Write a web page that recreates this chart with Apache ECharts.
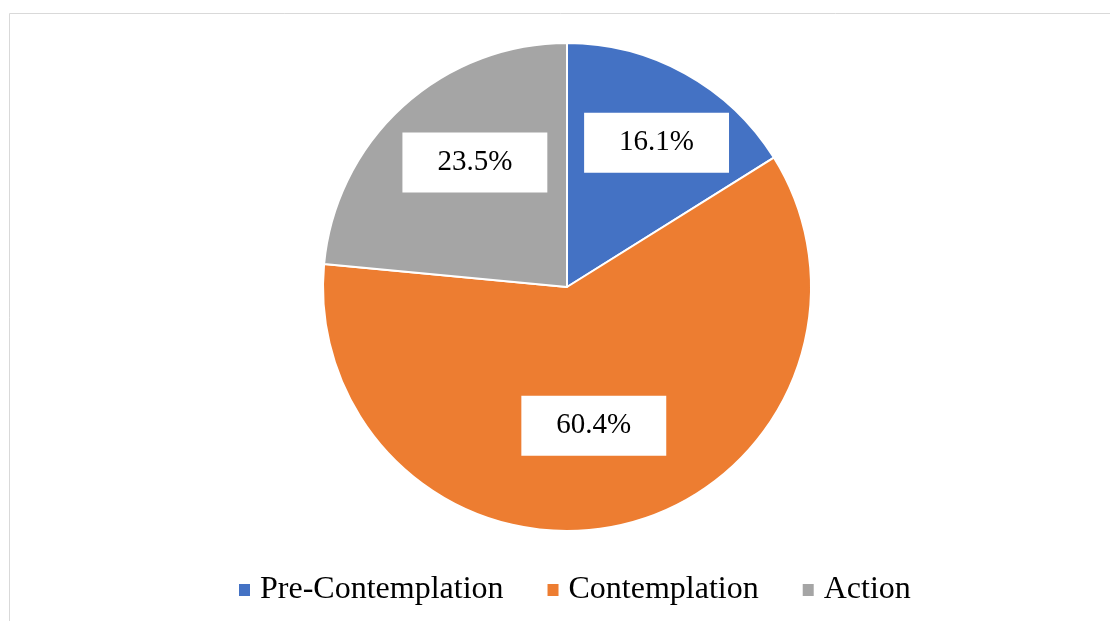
<!DOCTYPE html>
<html>
<head>
<meta charset="utf-8">
<style>
  html, body { margin: 0; padding: 0; background: #fff; }
  #chart { width: 1110px; height: 621px; }
</style>
<script src="https://cdn.jsdelivr.net/npm/echarts@6/dist/echarts.min.js"></script>
</head>
<body>
<div id="chart"></div>
<script>
const categories = ['Pre-Contemplation', 'Contemplation', 'Action'];
const values = [16.1, 60.4, 23.5];
const colors = ['#4472C4', '#ED7D31', '#A5A5A5'];
const labelOffsets = [[29, -35], [-2, 17], [-8, -32]];

const chart = echarts.init(document.getElementById('chart'));
const font = '"Liberation Serif", "Times New Roman", serif';

chart.setOption({
  animation: false,
  graphic: [{
    type: 'rect',
    shape: { x: 9.5, y: 13.5, width: 1200, height: 700 },
    style: { fill: 'none', stroke: '#d9d9d9', lineWidth: 1 },
    silent: true
  }],
  legend: {
    data: categories,
    left: 234,
    top: 569,
    icon: 'rect',
    itemWidth: 11,
    itemHeight: 12,
    itemGap: 44,
    itemStyle: { borderWidth: 0 },
    textStyle: { fontFamily: font, fontSize: 32, color: '#000', padding: [0, 0, 0, 5] }
  },
  series: [{
    type: 'pie',
    center: [567, 287],
    radius: 244,
    startAngle: 90,
    clockwise: true,
    avoidLabelOverlap: false,
    itemStyle: { borderColor: '#fff', borderWidth: 2 },
    label: {
      show: true,
      position: 'inside',
      formatter: p => p.value.toFixed(1) + '%',
      fontFamily: font,
      fontSize: 29,
      color: '#000',
      backgroundColor: '#fff',
      lineHeight: 30,
      padding: [15, 35, 15, 35]
    },
    labelLine: { show: false },
    data: categories.map((c, i) => ({
      name: c,
      value: values[i],
      itemStyle: { color: colors[i] },
      label: { offset: labelOffsets[i] }
    }))
  }]
});
</script>
</body>
</html>
